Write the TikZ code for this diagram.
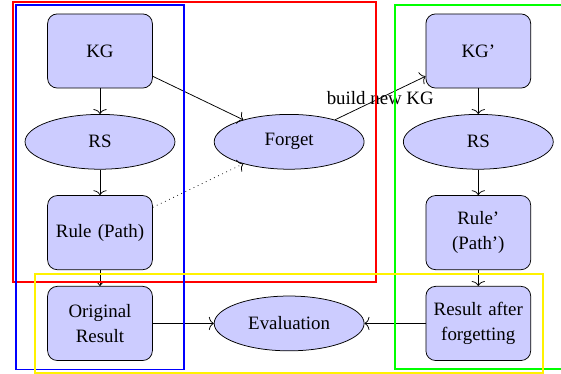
\documentclass[tikz,border=0pt]{standalone}
\usepackage{fontspec}
\setmainfont{Liberation Serif}
\usepackage{tikz}
\usetikzlibrary{shapes.geometric, fit, arrows.meta}

\begin{document}
\begin{tikzpicture}[node distance=1.69cm]
        % styles %
        \tikzstyle{block} = [rectangle,draw,fill=blue!20,rounded corners=0.18cm,minimum width=1.95cm,minimum height=1.38cm,text width=1.68cm,align=center,font=\fontsize{10}{13.2}\selectfont];
        \tikzstyle{ellip} = [ellipse,draw,fill=blue!20,minimum width=2.79cm,minimum height=1.02cm];
        \tikzstyle{frame} = [rectangle,line width=1pt];
        \tikzstyle{line} = [-{To[width=7pt,length=2.6pt]}];

        \useasboundingbox (-1.861,0.949) rectangle (8.579,-6.011);

        % nodes %
        \node [block] (kg) {KG};
        \node [ellip] (rs) [below of = kg] {RS};
        \node [block] (rule) [below of = rs] {Rule (Path)};
        \node [block] (orig) [below of = rule] {Original Result};

        \node [ellip] (forget) [right of = rs, xshift = 1.83cm] {Forget};
        \node [ellip] (eval) [right of = orig, xshift = 1.83cm] {Evaluation};

        \node [block] (kg2) [right of = kg, xshift = 5.35cm] {KG'};
        \node [ellip] (rs2) [below of = kg2] {RS};
        \node [block] (rule2) [below of = rs2] {Rule' (Path')};
        \node [block] (result) [below of = rule2] {Result after forgetting};

        % edges %
        \path[line] (kg)
                      edge (rs)
                      edge (forget);
        \path[line] (rs) edge (rule);
        \path[line] (rule) edge (orig);
        \path[line, dotted] (rule) edge (forget);
        \path[line] (forget) edge node {build new KG} (kg2);
        \path[line] (kg2) edge (rs2);
        \path[line] (rs2) edge (rule2);
        \path[line] (rule2) edge (result);
        \path[line] (orig) edge (eval);
        \path[line] (result) edge (eval);

        % frames %
        \node [frame, draw=red, inner sep=0.22cm, fit=(kg)(rs)(rule)(forget)] (redbox) {};
        \node [frame, draw=blue, inner sep=0.16cm, fit=(kg)(rs)(rule)(orig)] (bluebox) {};
        \node [frame, draw=green, inner sep=0.155cm, fit=(kg2)(rs2)(rule2)(result)] (greenbox) {};
        \node [frame, draw=yellow, inner sep=0.22cm, fit=(orig)(eval)(result)] (yellowbox) {};
\end{tikzpicture}
\end{document}
